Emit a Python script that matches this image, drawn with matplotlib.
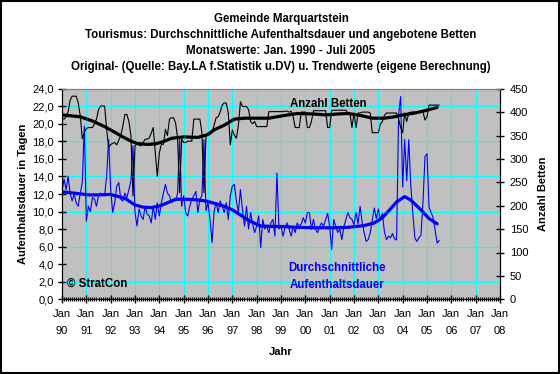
import matplotlib
matplotlib.use("Agg")
import matplotlib.pyplot as plt
from matplotlib.ticker import FuncFormatter, MultipleLocator, FixedLocator
from matplotlib.patches import Rectangle

plt.rcParams['font.family'] = ['Liberation Sans', 'DejaVu Sans']

# ---------------- data (monthly, Jan 1990 .. Jul 2005) ----------------
betten = [
    388, 385, 390, 400, 425, 434, 434, 434, 420, 392, 343, 356,   # 1990
    365, 367, 367, 367, 375, 385, 405, 413, 413, 413, 364, 324,   # 1991
    331, 333, 335, 330, 340, 350, 370, 395, 395, 380, 349, 221,   # 1992
    328, 331, 330, 328, 335, 342, 342, 345, 355, 367, 313, 263,   # 1993
    313, 331, 331, 363, 350, 385, 388, 388, 377, 345, 228, 342,   # 1994
    335, 335, 338, 338, 338, 385, 385, 385, 385, 356, 228, 349,   # 1995
    356, 356, 356, 372, 388, 390, 400, 415, 420, 419, 398, 330,   # 1996
    362, 351, 344, 372, 422, 412, 412, 412, 405, 380, 375, 380,   # 1997
    369, 369, 369, 369, 369, 369, 401, 401, 401, 401, 401, 401,   # 1998
    401, 401, 402, 402, 400, 402, 390, 367, 367, 367, 400, 400,   # 1999
    400, 367, 367, 380, 403, 403, 403, 403, 403, 403, 403, 367,   # 2000
    367, 404, 404, 404, 404, 404, 404, 404, 404, 398, 398, 367,   # 2001
    398, 367, 398, 398, 400, 400, 400, 400, 398, 356, 356, 356,   # 2002
    356, 374, 380, 393, 398, 398, 398, 398, 398, 398, 385, 367,   # 2003
    356, 398, 380, 398, 400, 400, 400, 400, 400, 400, 401, 383,   # 2004
    390, 415, 415, 415, 415, 415, 415,                            # 2005
]

dauer = [
    12.3, 13.7, 12.5, 14.0, 12.1, 11.2, 12.0, 11.0, 10.6, 12.1, 13.3, 19.75,  # 1990
    8.9, 10.6, 10.0, 11.6, 11.4, 10.6, 11.8, 12.1, 11.9, 11.8, 14.0, 18.2,    # 1991
    12.5, 9.9, 11.0, 12.9, 13.3, 11.4, 11.2, 12.1, 11.6, 12.5, 13.5, 17.5,    # 1992
    9.9, 8.35, 10.3, 9.5, 9.1, 10.6, 9.7, 9.5, 8.7, 10.6, 9.1, 11.0,          # 1993
    9.5, 11.0, 12.1, 13.1, 12.1, 11.8, 11.0, 11.4, 11.2, 12.1, 18.2, 10.6,    # 1994
    11.8, 9.9, 9.5, 10.6, 11.4, 11.8, 12.3, 9.9, 11.4, 11.8, 18.2, 10.1,      # 1995
    11.0, 9.1, 6.45, 10.0, 11.0, 9.9, 11.2, 10.6, 9.9, 11.0, 9.1, 11.8,       # 1996
    12.9, 13.1, 11.2, 9.9, 12.5, 10.2, 8.35, 10.6, 8.0, 9.9, 8.6, 7.6,        # 1997
    8.35, 9.5, 5.9, 9.1, 8.0, 8.35, 7.6, 8.7, 9.1, 7.2, 14.4, 8.0,            # 1998
    8.35, 7.2, 8.2, 8.7, 8.0, 7.2, 8.3, 7.6, 8.7, 8.3, 8.6, 9.3,              # 1999
    8.7, 9.9, 9.9, 7.95, 9.1, 8.0, 7.6, 8.3, 8.7, 8.3, 9.1, 9.8,              # 2000
    8.3, 5.7, 9.1, 8.3, 7.6, 8.0, 6.8, 8.3, 9.1, 9.9, 9.3, 9.1,               # 2001
    8.5, 9.9, 8.6, 10.6, 8.8, 7.6, 6.6, 6.8, 7.6, 9.0, 10.4, 9.2,             # 2002
    10.3, 9.0, 9.8, 7.7, 6.8, 7.2, 7.0, 7.5, 6.9, 6.75, 21.0, 23.1,           # 2003
    12.8, 18.2, 13.5, 18.2, 13.0, 9.8, 7.0, 6.6, 7.0, 7.3, 10.9, 16.25,       # 2004
    16.6, 10.5, 9.9, 9.3, 7.9, 6.4, 6.7,                                      # 2005
]

betten_trend_m = [0, 9, 15, 21, 26, 30, 34, 37, 42, 46, 50, 54, 60, 67, 72, 75,
                  80, 85, 90, 96, 102, 110, 116, 124, 130, 136, 141, 147, 153,
                  159, 164, 168, 174, 179, 185]
betten_trend = [394, 390, 381, 369, 357, 347, 338, 333, 331, 332, 337, 344, 347,
                346, 352, 362, 372, 385, 387, 387, 387, 393, 397, 396, 394, 396,
                397, 393, 387, 387, 390, 394, 398, 403, 410]

dauer_trend_m = [0, 6, 13, 18, 24, 31, 36, 40, 44, 49, 56, 61, 66, 71, 75, 80,
                 84, 88, 92, 98, 104, 108, 116, 125, 133, 141, 149, 154, 158,
                 162, 165, 169, 172, 177, 181, 185]
dauer_trend = [12.25, 12.1, 11.9, 11.9, 11.95, 11.5, 10.75, 10.5, 10.45, 10.7,
               11.4, 11.4, 11.35, 11.2, 10.95, 10.6, 10.2, 9.6, 9.0, 8.35, 8.3,
               8.3, 8.2, 8.15, 8.15, 8.2, 8.4, 8.7, 9.3, 10.3, 11.1, 11.7, 11.3,
               10.2, 9.2, 8.6]

year_labels = ["90", "91", "92", "93", "94", "95", "96", "97", "98", "99",
               "00", "01", "02", "03", "04", "05", "06", "07", "08"]
grid_levels = [2, 6, 10, 14, 18, 22]

titles = ["Gemeinde Marquartstein",
          "Tourismus: Durchschnittliche Aufenthaltsdauer und angebotene Betten",
          "Monatswerte: Jan. 1990 - Juli 2005",
          "Original- (Quelle: Bay.LA f.Statistik u.DV) u. Trendwerte (eigene Berechnung)"]

# ---------------- figure ----------------
W, H = 560, 374
fig = plt.figure(figsize=(W / 100, H / 100), dpi=100)
fig.patch.set_facecolor("white")
fig.patches.append(Rectangle((0.001, 0.002), 0.997, 0.995, transform=fig.transFigure,
                             fill=False, edgecolor="black", linewidth=1.5, zorder=10))

L, R, T, B = 62, 500, 88.7, 299.3
ax = fig.add_axes([L / W, 1 - B / H, (R - L) / W, (B - T) / H])
ax.set_facecolor("#C0C0C0")
ax2 = ax.twinx()
ax2.patch.set_visible(False)

months = list(range(len(dauer)))
n_years = len(year_labels) - 1

# grid lines
for g in grid_levels:
    ax.axhline(g, color="#00FFFF", lw=0.8, zorder=0.5)
for k in range(1, n_years):
    ax.axvline(12 * k, color="#00FFFF", lw=0.8, zorder=0.5)

ax.plot(months, dauer, color="#0000FF", lw=0.8, zorder=2)
ax.plot(dauer_trend_m, dauer_trend, color="#0000FF", lw=2.3, zorder=3,
        solid_joinstyle="round", solid_capstyle="round")
ax2.plot(list(range(len(betten))), betten, color="black", lw=0.8, zorder=2)
ax2.plot(betten_trend_m, betten_trend, color="black", lw=2.3, zorder=3,
         solid_joinstyle="round", solid_capstyle="round")

ax.set_xlim(0, 12 * n_years)
ax.set_ylim(0, 24)
ax2.set_ylim(0, 450)

ax.xaxis.set_major_locator(FixedLocator([12 * k for k in range(n_years + 1)]))
ax.xaxis.set_minor_locator(MultipleLocator(1))
ax.set_xticklabels(["Jan\n" + y for y in year_labels], fontsize=8, linespacing=1.9)
ax.yaxis.set_major_locator(MultipleLocator(2))
ax.yaxis.set_major_formatter(FuncFormatter(lambda v, p: f"{v:.1f}".replace(".", ",")))
ax2.yaxis.set_major_locator(MultipleLocator(50))

ax.tick_params(axis="x", which="major", direction="inout", length=6, width=1, pad=4, labelsize=8)
ax.tick_params(axis="x", which="minor", direction="inout", length=3, width=0.8)
ax.tick_params(axis="y", which="major", direction="inout", length=6, width=1, pad=3, labelsize=8)
ax2.tick_params(axis="y", which="major", direction="inout", length=6, width=1, pad=4, labelsize=8)

for a in (ax, ax2):
    a.spines["top"].set_color("#808080")
    a.spines["left"].set_color("black")
    a.spines["right"].set_color("black")
    a.spines["bottom"].set_color("black")

ax.set_ylabel("Aufenthaltsdauer in Tagen", fontsize=8, fontweight="bold", labelpad=3)
ax2.set_ylabel("Anzahl Betten", fontsize=8, fontweight="bold", labelpad=7)
ax.set_xlabel("Jahr", fontsize=8, fontweight="bold", labelpad=8)

def ftext(x, y, s, **kw):
    fig.text(x / W, 1 - y / H, s, **kw)

for i, t in enumerate(titles):
    ftext(281, 19 + 16 * i, t, ha="center", va="center", fontsize=8.3, fontweight="bold")

ftext(328, 104, "Anzahl Betten", ha="center", va="center", fontsize=8.3,
      fontweight="bold", color="black")
ftext(337, 268, "Durchschnittliche", ha="center", va="center", fontsize=8.3,
      fontweight="bold", color="#0000FF")
ftext(337, 285, "Aufenthaltsdauer", ha="center", va="center", fontsize=8.3,
      fontweight="bold", color="#0000FF")
ftext(67, 284, "© StratCon", ha="left", va="center", fontsize=8.3,
      fontweight="bold", color="black")

fig.savefig("out.png", dpi=100)
